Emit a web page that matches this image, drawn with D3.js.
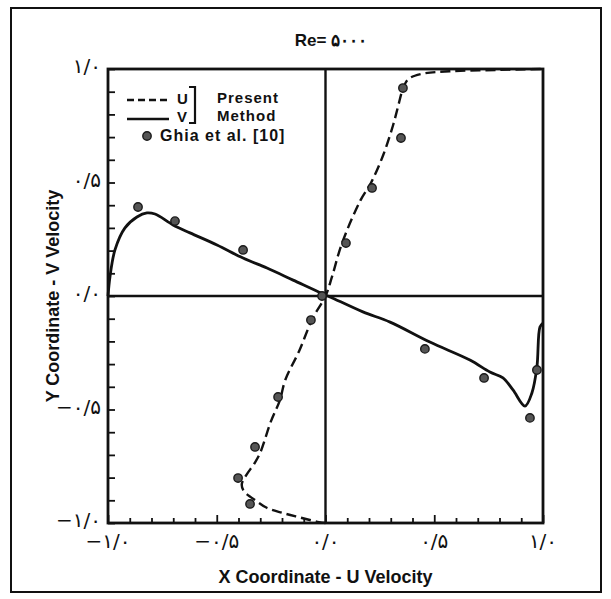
<!DOCTYPE html>
<html>
<head>
<meta charset="utf-8">
<title>Re 5000 centerline velocities</title>
<style>
    html, body { margin: 0; padding: 0; background: #fff; }
    svg { display: block; }
    .tick-label { font-family: "DejaVu Sans", sans-serif; font-size: 20px; fill: #111; }
    .axis-title { font-family: "Liberation Sans", Arial, sans-serif; font-size: 18px; font-weight: bold; fill: #111; }
    .legend-text { font-family: "Liberation Sans", Arial, sans-serif; font-size: 15px; font-weight: bold; fill: #111; letter-spacing: 1px; }
</style>
</head>
<body>
<div id="chart"></div>
<script src="https://d3js.org/d3.v7.min.js"></script>
<script>
    // U velocity along vertical centerline: [u, y]
    var uPresent = [
        [0, -1], [-0.03, -0.996], [-0.12, -0.975], [-0.2, -0.955], [-0.27, -0.933],
        [-0.315, -0.905], [-0.375, -0.86], [-0.385, -0.83], [-0.365, -0.79], [-0.325, -0.735],
        [-0.3, -0.69], [-0.25, -0.55], [-0.21, -0.46], [-0.185, -0.37], [-0.12, -0.24],
        [-0.06, -0.1], [0, 0], [0.03, 0.085], [0.075, 0.23], [0.16, 0.42], [0.21, 0.5],
        [0.265, 0.62], [0.31, 0.75], [0.335, 0.84], [0.355, 0.91], [0.38, 0.955],
        [0.44, 0.978], [0.57, 0.99], [0.8, 0.996], [1, 1]
    ];
    // V velocity along horizontal centerline: [x, v]
    var vPresent = [
        [-1, 0], [-0.991, 0.084], [-0.968, 0.203], [-0.922, 0.3], [-0.867, 0.348],
        [-0.821, 0.366], [-0.784, 0.361], [-0.701, 0.313], [-0.623, 0.278], [-0.499, 0.225],
        [-0.379, 0.167], [-0.269, 0.123], [-0.149, 0.07], [-0.011, 0.009], [0.021, -0.004],
        [0.172, -0.07], [0.297, -0.115], [0.48, -0.203], [0.664, -0.282], [0.756, -0.335],
        [0.816, -0.361], [0.862, -0.414], [0.917, -0.485], [0.949, -0.427], [0.972, -0.313],
        [0.986, -0.137], [1, -0.119]
    ];
    // Ghia et al. [10] benchmark points
    var ghiaU = [
        [-0.347, -0.916], [-0.402, -0.802], [-0.324, -0.665], [-0.218, -0.445], [-0.067, -0.106],
        [-0.016, 0], [0.094, 0.233], [0.214, 0.476], [0.347, 0.696], [0.356, 0.916]
    ];
    var ghiaV = [
        [-0.862, 0.392], [-0.692, 0.33], [-0.379, 0.203], [0.457, -0.233], [0.729, -0.361],
        [0.94, -0.537], [0.972, -0.326]
    ];
    var tickValues = [-1, -0.5, 0, 0.5, 1];
    var tickLabels = ["\u2212\u06F1/\u06F0", "\u2212\u06F0/\u06F5", "\u06F0/\u06F0", "\u06F0/\u06F5", "\u06F1/\u06F0"];
    var titleText = "Re= \u06F5\u06F0\u06F0\u06F0";

    var width = 611, height = 599;
    var margin = { top: 69, right: 68, bottom: 76, left: 108 };

    var svg = d3.select("#chart").append("svg")
        .attr("width", width)
        .attr("height", height);

    // outer frame
    svg.append("rect")
        .attr("x", 11).attr("y", 8)
        .attr("width", 590).attr("height", 584)
        .attr("fill", "none").attr("stroke", "#111").attr("stroke-width", 2);

    var x = d3.scaleLinear().domain([-1, 1]).range([margin.left, width - margin.right]);
    var y = d3.scaleLinear().domain([-1, 1]).range([height - margin.bottom, margin.top]);

    var minor = d3.range(-10, 11).map(function (d) { return d / 10; });

    // bottom ticks (inward)
    svg.append("g")
        .attr("transform", "translate(0," + y(-1) + ")")
        .call(d3.axisTop(x).tickValues(minor).tickSize(5).tickFormat(""))
        .call(function (g) { g.select(".domain").remove(); })
        .selectAll("line")
        .attr("stroke", "#111").attr("stroke-width", 1.8)
        .attr("y2", function (d) { return Math.abs(d * 2 % 1) < 1e-6 ? -8 : -5; });

    // left ticks (inward)
    svg.append("g")
        .attr("transform", "translate(" + x(-1) + ",0)")
        .call(d3.axisRight(y).tickValues(minor).tickSize(7).tickFormat(""))
        .call(function (g) { g.select(".domain").remove(); })
        .selectAll("line")
        .attr("stroke", "#111").attr("stroke-width", 1.8);

    // zero lines
    svg.append("line")
        .attr("x1", x(0)).attr("x2", x(0)).attr("y1", y(-1)).attr("y2", y(1))
        .attr("stroke", "#111").attr("stroke-width", 2.4);
    svg.append("line")
        .attr("x1", x(-1)).attr("x2", x(1)).attr("y1", y(0)).attr("y2", y(0))
        .attr("stroke", "#111").attr("stroke-width", 2.4);

    // plot box
    svg.append("rect")
        .attr("x", x(-1)).attr("y", y(1))
        .attr("width", x(1) - x(-1)).attr("height", y(-1) - y(1))
        .attr("fill", "none").attr("stroke", "#111").attr("stroke-width", 2.8);

    // tick labels
    svg.selectAll(".xlab").data(tickValues).enter().append("text")
        .attr("class", "tick-label")
        .attr("x", function (d) { return x(d); })
        .attr("y", y(-1) + 25)
        .attr("text-anchor", "middle")
        .text(function (d, i) { return tickLabels[i]; });

    svg.selectAll(".ylab").data(tickValues).enter().append("text")
        .attr("class", "tick-label")
        .attr("x", x(-1) - 7)
        .attr("y", function (d) { return y(d) + 4; })
        .attr("text-anchor", "end")
        .text(function (d, i) { return tickLabels[i]; });

    // title and axis titles
    svg.append("text").attr("class", "axis-title")
        .attr("x", 331).attr("y", 46).attr("text-anchor", "middle")
        .style("font-size", "17px")
        .text(titleText);
    svg.append("text").attr("class", "axis-title")
        .attr("x", x(0)).attr("y", 583).attr("text-anchor", "middle")
        .text("X Coordinate - U Velocity");
    svg.append("text").attr("class", "axis-title")
        .attr("transform", "translate(59," + y(0) + ") rotate(-90)")
        .attr("text-anchor", "middle")
        .text("Y Coordinate - V Velocity");

    // curves
    var line = d3.line()
        .x(function (d) { return x(d[0]); })
        .y(function (d) { return y(d[1]); })
        .curve(d3.curveCatmullRom.alpha(0.5));

    svg.append("path").datum(vPresent)
        .attr("d", line)
        .attr("fill", "none").attr("stroke", "#111").attr("stroke-width", 2.8);

    svg.append("path").datum(uPresent)
        .attr("d", line)
        .attr("fill", "none").attr("stroke", "#111").attr("stroke-width", 2.4)
        .attr("stroke-dasharray", "10,5");

    // Ghia markers
    svg.selectAll(".ghia").data(ghiaU.concat(ghiaV)).enter().append("circle")
        .attr("cx", function (d) { return x(d[0]); })
        .attr("cy", function (d) { return y(d[1]); })
        .attr("r", 4.2)
        .attr("fill", "#555").attr("stroke", "#1a1a1a").attr("stroke-width", 1.4);

    // legend
    var lg = svg.append("g");
    lg.append("line").attr("x1", 127).attr("x2", 169).attr("y1", 100).attr("y2", 100)
        .attr("stroke", "#111").attr("stroke-width", 2.4).attr("stroke-dasharray", "7,4");
    lg.append("line").attr("x1", 127).attr("x2", 169).attr("y1", 119).attr("y2", 119)
        .attr("stroke", "#111").attr("stroke-width", 2.6);
    lg.append("text").attr("class", "legend-text").attr("x", 177).attr("y", 104).text("U");
    lg.append("text").attr("class", "legend-text").attr("x", 177).attr("y", 122).text("V");
    lg.append("path").attr("d", "M189,87 H195 V123 H189")
        .attr("fill", "none").attr("stroke", "#111").attr("stroke-width", 2.2);
    lg.append("text").attr("class", "legend-text").attr("x", 217).attr("y", 103).text("Present");
    lg.append("text").attr("class", "legend-text").attr("x", 217).attr("y", 121).text("Method");
    lg.append("circle").attr("cx", 147).attr("cy", 136).attr("r", 4.2)
        .attr("fill", "#555").attr("stroke", "#1a1a1a").attr("stroke-width", 1.4);
    lg.append("text").attr("class", "legend-text").attr("x", 160).attr("y", 141)
        .style("font-size", "16px")
        .text("Ghia et al. [10]");
</script>
</body>
</html>
